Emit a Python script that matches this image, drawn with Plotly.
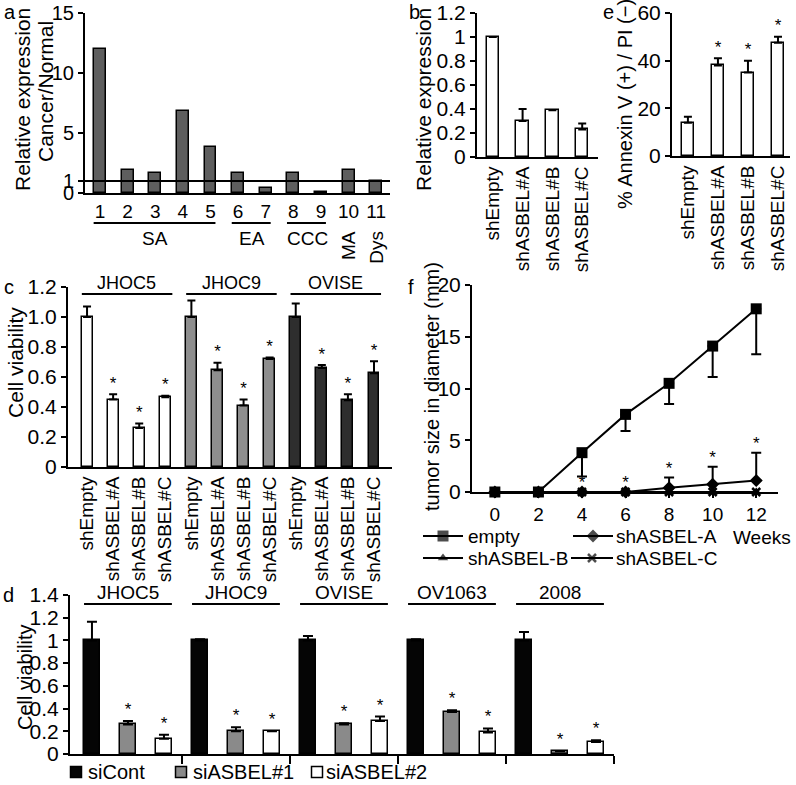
import plotly.graph_objects as go

W, H = 796, 785
FONT = "Liberation Sans, Arial, Helvetica, sans-serif"

# ---------------- data ----------------
# panel a
a_cases = [1, 2, 3, 4, 5, 6, 7, 8, 9, 10, 11]
a_values = [12.0, 1.9, 1.7, 6.8, 3.8, 1.7, 0.4, 1.7, 0.1, 1.9, 1.0]
a_groups = ["SA", "EA", "CCC"]
a_group_first = [1, 6, 8]
a_group_last = [5, 7, 9]
a_single = ["MA", "Dys"]
a_single_case = [10, 11]
a_yticks = [0, 1, 5, 10, 15]
a_normal = 1

# panels b / e
sh_labels = ["shEmpty", "shASBEL#A", "shASBEL#B", "shASBEL#C"]
b_values = [1.0, 0.30, 0.39, 0.23]
b_err = [0.0, 0.10, 0.0, 0.05]
e_values = [14.0, 38.0, 35.0, 47.5]
e_err = [2.5, 3.0, 5.0, 2.5]
e_sig = [False, True, True, True]

# panel c
c_lines = ["JHOC5", "JHOC9", "OVISE"]
c_jhoc5 = [1.0, 0.45, 0.26, 0.465]
c_jhoc5_err = [0.07, 0.035, 0.03, 0.01]
c_jhoc9 = [1.0, 0.645, 0.41, 0.72]
c_jhoc9_err = [0.11, 0.05, 0.04, 0.01]
c_ovise = [1.0, 0.66, 0.445, 0.625]
c_ovise_err = [0.09, 0.02, 0.04, 0.08]
c_sig = [False, True, True, True]

# panel f
f_weeks = [0, 2, 4, 6, 8, 10, 12]
f_empty = [0, 0, 3.8, 7.5, 10.5, 14.1, 17.7]
f_empty_err = [0, 0, 2.3, 1.6, 2.0, 3.0, 4.4]
f_a = [0, 0, 0, 0, 0.4, 0.75, 1.1]
f_a_err = [0, 0, 0, 0, 1.0, 1.7, 2.7]
f_b = [0, 0, 0, 0, 0, 0, 0]
f_c = [0, 0, 0, 0, 0, 0, 0]
f_sig = [False, False, True, True, True, True, True]
f_series = ["empty", "shASBEL-A", "shASBEL-B", "shASBEL-C"]

# panel d
d_lines = ["JHOC5", "JHOC9", "OVISE", "OV1063", "2008"]
d_sicont = [1.0, 1.0, 1.0, 1.0, 1.0]
d_sicont_err = [0.165, 0.01, 0.04, 0.01, 0.075]
d_si1 = [0.26, 0.20, 0.26, 0.37, 0.025]
d_si1_err = [0.03, 0.035, 0.01, 0.015, 0.0]
d_si2 = [0.135, 0.20, 0.29, 0.19, 0.105]
d_si2_err = [0.035, 0.0, 0.04, 0.035, 0.015]
d_series = ["siCont", "siASBEL#1", "siASBEL#2"]
d_sig1 = [True, True, True, True, True]
d_sig2 = [True, True, True, True, True]

# ---------------- helpers ----------------
def xdom(a, b):
    return [a / W, b / W]


def ydom(top, bottom):
    return [1 - bottom / H, 1 - top / H]


def px(x):
    return x / W


def py(y):
    return 1 - y / H


def yax(dom, rng, tickvals, ticktext=None, anchor="x", size=21):
    d = dict(domain=dom, range=rng, showline=True, linecolor="black", linewidth=2,
             ticks="outside", ticklen=5, tickwidth=2, tickcolor="black", automargin=False,
             tickvals=tickvals, showgrid=False, zeroline=False, anchor=anchor,
             tickfont=dict(size=size, family=FONT, color="black"), fixedrange=True)
    if ticktext is not None:
        d["ticktext"] = ticktext
    return d


def xax(dom, rng, anchor, **kw):
    d = dict(domain=dom, range=rng, showline=True, linecolor="black", linewidth=2,
             ticks="", showgrid=False, zeroline=False, anchor=anchor, automargin=False,
             tickfont=dict(size=19, family=FONT, color="black"), fixedrange=True)
    d.update(kw)
    return d


def err_up(arr, w=4):
    return dict(type="data", symmetric=False, array=arr, arrayminus=[0] * len(arr),
                color="black", thickness=2, width=w)


def stars(xs, tops, sig, off, xa, ya, size=17):
    sx = [x for x, s in zip(xs, sig) if s]
    sy = [t + off for t, s in zip(tops, sig) if s]
    return go.Scatter(x=sx, y=sy, mode="text", text=["*"] * len(sx),
                      textposition="middle center", textfont=dict(size=size, family=FONT, color="black"),
                      xaxis=xa, yaxis=ya, cliponaxis=False, hoverinfo="skip")


fig = go.Figure()
ann = []
shapes = []
OUT = dict(color="black", width=1.5)
ROT = dict(size=19, family=FONT, color="black")

# ---------------- panel a ----------------
fig.add_trace(go.Bar(x=a_cases, y=a_values, width=0.43, marker=dict(color="#5e5e5e", line=OUT),
                     xaxis="x", yaxis="y"))
shapes.append(dict(type="line", xref="x domain", yref="y", x0=0, x1=1, y0=a_normal, y1=a_normal,
                   line=dict(color="black", width=2)))
for name, f0, f1 in zip(a_groups, a_group_first, a_group_last):
    shapes.append(dict(type="line", xref="x", yref="paper", x0=f0 - 0.23, x1=f1 + 0.18,
                       y0=py(223), y1=py(223), line=dict(color="black", width=2)))
    ann.append(dict(text=name, xref="x", yref="paper", x=(f0 + f1) / 2, y=py(239),
                    showarrow=False, font=dict(size=19), xanchor="center", yanchor="middle"))
for name, cs in zip(a_single, a_single_case):
    ann.append(dict(text=name, xref="x", yref="paper", x=cs, y=py(229), textangle=-90,
                    showarrow=False, font=dict(size=19), xanchor="center", yanchor="top"))

# ---------------- panel b ----------------
xb = list(range(len(sh_labels)))
fig.add_trace(go.Bar(x=xb, y=b_values, width=0.42, marker=dict(color="white", line=OUT),
                     error_y=err_up(b_err), xaxis="x2", yaxis="y2"))

# ---------------- panel e ----------------
fig.add_trace(go.Bar(x=xb, y=e_values, width=0.42, marker=dict(color="white", line=OUT),
                     error_y=err_up(e_err), xaxis="x3", yaxis="y3"))
fig.add_trace(stars(xb, [v + e for v, e in zip(e_values, e_err)], e_sig, 4.2, "x3", "y3"))

# ---------------- panel c ----------------
c_sets = [(c_jhoc5, c_jhoc5_err, "white"), (c_jhoc9, c_jhoc9_err, "#8e8e8e"),
          (c_ovise, c_ovise_err, "#2e2e2e")]
for gi, (vals, errs, col) in enumerate(c_sets):
    xs = [gi * 4 + k for k in range(len(vals))]
    fig.add_trace(go.Bar(x=xs, y=vals, width=0.42, marker=dict(color=col, line=OUT),
                         error_y=err_up(errs), xaxis="x4", yaxis="y4"))
    fig.add_trace(stars(xs, [v + e for v, e in zip(vals, errs)], c_sig, 0.065, "x4", "y4"))
    shapes.append(dict(type="line", xref="x4", yref="paper", x0=xs[0] - 0.2, x1=xs[-1] + 0.27,
                       y0=py(294), y1=py(294), line=dict(color="black", width=2)))
    ann.append(dict(text=c_lines[gi], xref="x4", yref="paper", x=(xs[0] + xs[-1]) / 2 + 0.03,
                    y=py(294), showarrow=False, font=dict(size=18), xanchor="center", yanchor="bottom",
                    yshift=-1))

# ---------------- panel f ----------------
fig.add_trace(go.Scatter(x=f_weeks, y=f_c, mode="lines+markers", line=dict(color="black", width=2),
                         marker=dict(symbol="x-thin-open", size=8, line=dict(color="black", width=2.5)),
                         xaxis="x5", yaxis="y5", cliponaxis=False))
fig.add_trace(go.Scatter(x=f_weeks, y=f_b, mode="lines+markers", line=dict(color="black", width=2),
                         marker=dict(symbol="triangle-up", size=9, color="black"),
                         xaxis="x5", yaxis="y5", cliponaxis=False))
fig.add_trace(go.Scatter(x=f_weeks, y=f_a, mode="lines+markers", line=dict(color="black", width=2),
                         marker=dict(symbol="diamond", size=10, color="black"),
                         error_y=dict(type="data", symmetric=False, array=f_a_err,
                                      arrayminus=[0] * len(f_a_err), color="black", thickness=2, width=5),
                         xaxis="x5", yaxis="y5", cliponaxis=False))
fig.add_trace(go.Scatter(x=f_weeks, y=f_empty, mode="lines+markers", line=dict(color="black", width=2),
                         marker=dict(symbol="square", size=11, color="black"),
                         error_y=dict(type="data", symmetric=False, array=[0] * len(f_empty_err),
                                      arrayminus=f_empty_err, color="black", thickness=2, width=5),
                         xaxis="x5", yaxis="y5", cliponaxis=False))
fig.add_trace(stars(f_weeks, [v + e for v, e in zip(f_a, f_a_err)], f_sig, 0.75, "x5", "y5"))

# ---------------- panel d ----------------
d_sets = [(d_sicont, d_sicont_err, "#050505", None),
          (d_si1, d_si1_err, "#8a8a8a", d_sig1),
          (d_si2, d_si2_err, "white", d_sig2)]
ng = len(d_lines)
for si, (vals, errs, col, sig) in enumerate(d_sets):
    xs = [g * 3 + si for g in range(ng)]
    fig.add_trace(go.Bar(x=xs, y=vals, width=0.44, marker=dict(color=col, line=OUT),
                         error_y=err_up(errs, 5), xaxis="x6", yaxis="y6"))
    if sig is not None:
        fig.add_trace(stars(xs, [v + e for v, e in zip(vals, errs)], sig, 0.09, "x6", "y6"))
for g, name in enumerate(d_lines):
    shapes.append(dict(type="line", xref="x6", yref="paper", x0=g * 3 - 0.22, x1=g * 3 + 2.22,
                       y0=py(604), y1=py(604), line=dict(color="black", width=2)))
    ann.append(dict(text=name, xref="x6", yref="paper", x=g * 3 + 1, y=py(604), showarrow=False,
                    font=dict(size=19), xanchor="center", yanchor="bottom", yshift=-1))

# ---------------- legends (overlay axis in pixel units) ----------------
leg_f = [
    (423, 463, 536, "square", 11, f_series[0], 466),
    (573, 613, 536, "diamond", 10, f_series[1], 614),
    (423, 463, 558, "triangle-up", 9, f_series[2], 466),
    (571, 613, 558, "x-thin-open", 8, f_series[3], 614),
]
for x0, x1, yy, sym, sz, name, tx in leg_f:
    mk = dict(symbol=sym, size=[0, sz, 0], color="black",
              line=dict(color="black", width=2.5 if "x" in sym else 0))
    fig.add_trace(go.Scatter(x=[x0, (x0 + x1) / 2, x1], y=[yy, yy, yy], mode="lines+markers",
                             line=dict(color="black", width=2), marker=mk, xaxis="x7", yaxis="y7",
                             cliponaxis=False, hoverinfo="skip"))
    ann.append(dict(text=name, xref="paper", yref="paper", x=px(tx), y=py(yy), showarrow=False,
                    font=dict(size=19), xanchor="left", yanchor="middle"))
ann.append(dict(text="Weeks", xref="paper", yref="paper", x=px(731), y=py(537), showarrow=False,
                font=dict(size=19), xanchor="left", yanchor="middle"))

leg_d = [(76, "#050505", d_series[0], 86), (181, "#8a8a8a", d_series[1], 191),
         (317, "white", d_series[2], 324)]
for cx, col, name, tx in leg_d:
    fig.add_trace(go.Scatter(x=[cx], y=[772], mode="markers",
                             marker=dict(symbol="square", size=11, color=col, line=dict(color="black", width=1.5)),
                             xaxis="x7", yaxis="y7", cliponaxis=False, hoverinfo="skip"))
    ann.append(dict(text=name, xref="paper", yref="paper", x=px(tx), y=py(772), showarrow=False,
                    font=dict(size=20), xanchor="left", yanchor="middle"))

# ---------------- titles & panel letters ----------------
def vt(text, x, y, size=20):
    ann.append(dict(text=text, xref="paper", yref="paper", x=px(x), y=py(y), textangle=-90,
                    showarrow=False, font=dict(size=size), xanchor="center", yanchor="middle"))


vt("Relative expression", 23, 100, 21)
vt("Cancer/Normal", 46, 92, 21)
vt("Relative expression", 424, 100, 21)
vt("% Annexin V (+) / PI (\u2212)", 625, 104, 20)
vt("Cell viability", 15, 363, 21)
vt("tumor size in diameter (mm)", 432, 387, 20)
vt("Cell viability", 25, 677, 20)

for letter, x, y in [("a", 10, 12), ("b", 415, 12), ("e", 608, 12), ("c", 9, 287), ("f", 411, 287), ("d", 8, 595)]:
    ann.append(dict(text=letter, xref="paper", yref="paper", x=px(x), y=py(y), showarrow=False,
                    font=dict(size=20), xanchor="center", yanchor="middle"))

# ---------------- layout ----------------
fig.update_layout(
    width=W, height=H, margin=dict(l=0, r=0, t=0, b=0, pad=0, autoexpand=False),
    paper_bgcolor="white", plot_bgcolor="rgba(0,0,0,0)", showlegend=False,
    font=dict(family=FONT, size=19, color="black"),
    bargap=0, annotations=ann, shapes=shapes,
    xaxis=xax(xdom(85, 390), [0.457, 11.5], "y", tickvals=a_cases),
    yaxis=yax(ydom(13, 193), [0, 15], a_yticks, anchor="x", size=20),
    xaxis2=xax(xdom(477, 598), [-0.53, 3.53], "y2", tickvals=xb, ticktext=sh_labels, tickangle=-90,
               tickfont=ROT),
    yaxis2=yax(ydom(13, 157), [0, 1.2], [0, 0.2, 0.4, 0.6, 0.8, 1.0, 1.2],
               ["0", "0.2", "0.4", "0.6", "0.8", "1", "1.2"], anchor="x2"),
    xaxis3=xax(xdom(672, 790), [-0.53, 3.4], "y3", tickvals=xb, ticktext=sh_labels, tickangle=-90,
               tickfont=ROT),
    yaxis3=yax(ydom(13, 156), [0, 60], [0, 20, 40, 60], anchor="x3"),
    xaxis4=xax(xdom(68, 392), [-0.73, 11.69], "y4", tickvals=list(range(12)), ticktext=sh_labels * 3,
               tickangle=-90, tickfont=ROT),
    yaxis4=yax(ydom(287, 467), [0, 1.2], [0, 0.2, 0.4, 0.6, 0.8, 1.0, 1.2],
               ["0", "0.2", "0.4", "0.6", "0.8", "1.0", "1.2"], anchor="x4"),
    xaxis5=xax(xdom(472, 778), [-1.05, 13.0], "y5", tickvals=f_weeks, ticks="outside", ticklen=4,
               tickwidth=2, tickcolor="black"),
    yaxis5=yax(ydom(285, 492), [0, 20], [0, 5, 10, 15, 20], anchor="x5"),
    xaxis6=xax(xdom(70, 614), [-0.61, 14.5], "y6", tickvals=[2.5, 5.5, 8.5, 11.5, 14.5], ticks="outside",
               ticklen=8, tickwidth=2, tickcolor="black", showticklabels=False),
    yaxis6=yax(ydom(595, 754), [0, 1.4], [0, 0.2, 0.4, 0.6, 0.8, 1.0, 1.2, 1.4],
               ["0", "0.2", "0.4", "0.6", "0.8", "1", "1.2", "1.4"], anchor="x6"),
    xaxis7=dict(domain=[0, 1], range=[0, W], visible=False, anchor="y7", fixedrange=True, automargin=False),
    yaxis7=dict(domain=[0, 1], range=[H, 0], visible=False, anchor="x7", fixedrange=True, automargin=False),
)

POST = ("document.documentElement.style.margin='0';document.body.style.margin='0';"
        "document.body.style.overflow='hidden';"
        "var d=document.getElementById('{plot_id}');d.style.position='fixed';"
        "d.style.left='0px';d.style.top='0px';")
fig.write_html("out.html", config={"displayModeBar": False}, post_script=POST)
